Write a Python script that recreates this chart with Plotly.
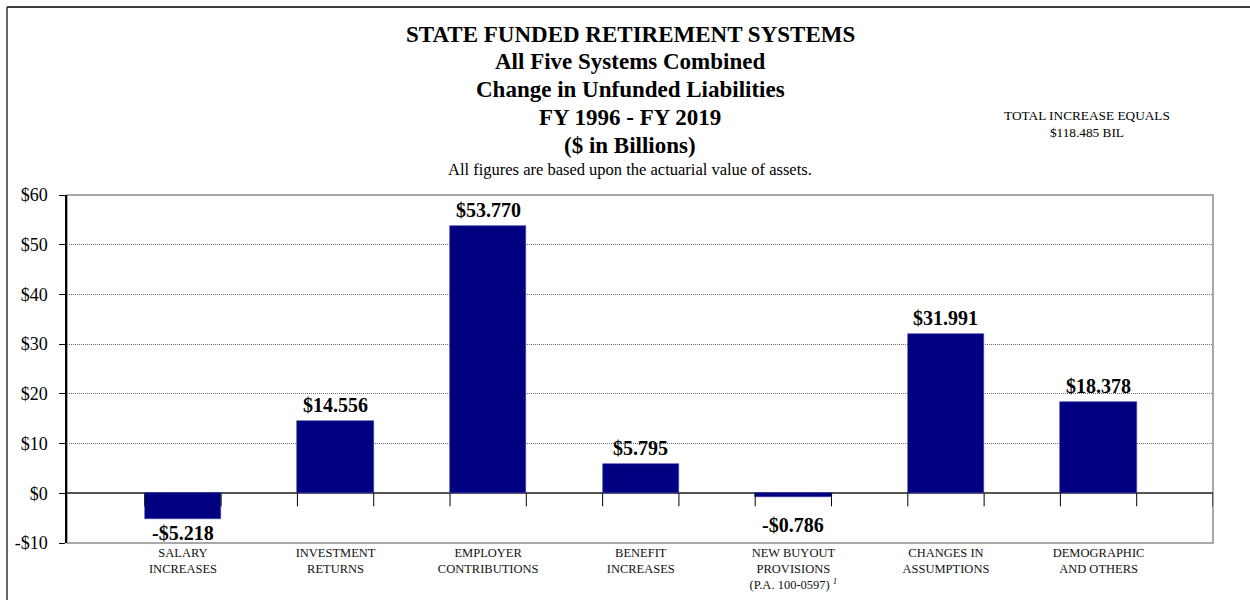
import plotly.graph_objects as go

# ---- data ----
categories = [
    "SALARY<br>INCREASES",
    "INVESTMENT<br>RETURNS",
    "EMPLOYER<br>CONTRIBUTIONS",
    "BENEFIT<br>INCREASES",
    "NEW BUYOUT<br>PROVISIONS<br>(P.A. 100-0597) <i><sup>1</sup></i>",
    "CHANGES IN<br>ASSUMPTIONS",
    "DEMOGRAPHIC<br>AND OTHERS",
]
values = [-5.218, 14.556, 53.770, 5.795, -0.786, 31.991, 18.378]
y_tickvals = [-10, 0, 10, 20, 30, 40, 50, 60]
total_increase = 118.485
title_lines = [
    "STATE FUNDED RETIREMENT SYSTEMS",
    "All Five Systems Combined",
    "Change in Unfunded Liabilities",
    "FY 1996 - FY 2019",
    "($ in Billions)",
]

# ---- layout constants ----
W, H = 1250, 600
ML, MR, MT, MB = 67, 37, 195, 57
PW, PH = W - ML - MR, H - MT - MB
Y_MIN, Y_MAX = -10, 60
X_MIN, X_MAX = -0.76, 6.75
BAR_W = 0.5
SERIF = "Liberation Serif, Times New Roman, serif"
NAVY = "#000080"
TITLE_TOP, TITLE_STEP = 34, 27.8
TICK_PX = 13           # length of the hanging tick marks
NEG_LABEL_CLEAR_PX = 18  # negative labels start at least this far below zero


def px_x(px):
    return (px - ML) / PW


def px_y(py):
    return 1 - (py - MT) / PH


def money(v):
    return ("-$" if v < 0 else "$") + f"{abs(v):.3f}"


def tick_money(v):
    return ("-$" if v < 0 else "$") + f"{abs(v):g}"


xs = list(range(len(values)))
units_per_px = (Y_MAX - Y_MIN) / PH

fig = go.Figure()

# small tick marks hanging below the zero line at each bar edge
tx, ty = [], []
tick_len = TICK_PX * units_per_px
for x in xs:
    for edge in (x - BAR_W / 2, x + BAR_W / 2):
        tx += [edge, edge, None]
        ty += [0, -tick_len, None]
tx += [X_MAX, X_MAX, None]
ty += [0, -tick_len, None]
fig.add_trace(go.Scatter(x=tx, y=ty, mode="lines",
                         line=dict(color="#000000", width=1),
                         hoverinfo="skip", showlegend=False, cliponaxis=False))

fig.add_trace(go.Bar(
    x=xs, y=values, width=BAR_W,
    marker=dict(color=NAVY, line=dict(color="#3a3ab0", width=0.6)),
    showlegend=False,
))

# value labels (negative ones kept clear of the tick marks)
annotations = []
neg_floor = -NEG_LABEL_CLEAR_PX * units_per_px
for x, v in zip(xs, values):
    if v >= 0:
        anchor_y, yanchor, shift = v, "bottom", 3
    else:
        anchor_y, yanchor, shift = min(v, neg_floor), "top", -1
    annotations.append(dict(
        x=x, y=anchor_y, xref="x", yref="y", text=f"<b>{money(v)}</b>",
        showarrow=False, yanchor=yanchor, yshift=shift,
        font=dict(family=SERIF, size=20, color="#000000"),
    ))

# titles
for i, line in enumerate(title_lines):
    annotations.append(dict(
        x=px_x(630), y=px_y(TITLE_TOP + i * TITLE_STEP), xref="paper", yref="paper",
        xanchor="center", yanchor="middle", showarrow=False,
        text=f"<b>{line}</b>",
        font=dict(family=SERIF, size=23, color="#000000"),
    ))
annotations.append(dict(
    x=px_x(630), y=px_y(169), xref="paper", yref="paper",
    xanchor="center", yanchor="middle", showarrow=False,
    text="All figures are based upon the actuarial value of assets.",
    font=dict(family=SERIF, size=16.5, color="#000000"),
))
annotations.append(dict(
    x=px_x(1087), y=px_y(124), xref="paper", yref="paper",
    xanchor="center", yanchor="middle", showarrow=False,
    text=f"TOTAL INCREASE EQUALS<br>${total_increase:.3f} BIL",
    font=dict(family=SERIF, size=13.3, color="#000000"),
))

shapes = [
    # plot frame
    dict(type="rect", xref="x domain", yref="y domain", x0=0, x1=1, y0=0, y1=1,
         line=dict(color="#8c8c8c", width=1.5), layer="below"),
    # outer page border (top and left)
    dict(type="line", xref="paper", yref="paper",
         x0=px_x(7), x1=px_x(W + 5), y0=px_y(7), y1=px_y(7),
         line=dict(color="#000000", width=1.5)),
    dict(type="line", xref="paper", yref="paper",
         x0=px_x(7), x1=px_x(7), y0=px_y(7), y1=px_y(H + 5),
         line=dict(color="#333333", width=1.5)),
]

fig.update_layout(
    width=W, height=H,
    margin=dict(l=ML, r=MR, t=MT, b=MB, pad=0, autoexpand=False),
    paper_bgcolor="#ffffff", plot_bgcolor="#ffffff",
    bargap=0,
    annotations=annotations,
    shapes=shapes,
    xaxis=dict(
        range=[X_MIN, X_MAX], tickvals=xs, ticktext=categories,
        ticks="", showgrid=False, zeroline=False, showline=False,
        tickfont=dict(family=SERIF, size=12.5, color="#111111"),
        ticklabelstandoff=0, automargin=False,
    ),
    yaxis=dict(
        range=[Y_MIN, Y_MAX], tickvals=y_tickvals,
        ticktext=[tick_money(v) for v in y_tickvals],
        ticks="outside", ticklen=6, tickcolor="#000000",
        showline=True, linecolor="#000000", linewidth=1.5,
        showgrid=True, gridcolor="#6a6a6a", griddash="1px,1px", gridwidth=1,
        zeroline=True, zerolinecolor="#555555", zerolinewidth=1.5,
        tickfont=dict(family=SERIF, size=18, color="#000000"),
        ticklabelstandoff=8, automargin=False,
    ),
)

fig.write_html("out.html")
